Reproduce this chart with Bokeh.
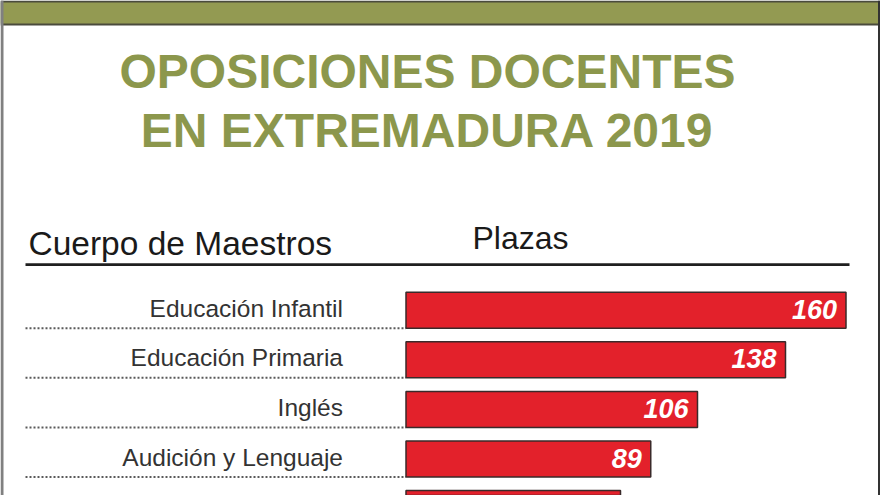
from bokeh.plotting import figure
from bokeh.models import Range1d, Label, BoxAnnotation, ColumnDataSource
from bokeh.core.properties import value
from bokeh.embed import file_html
from bokeh.resources import INLINE

# ---- data ----
categories = ["Educación Infantil", "Educación Primaria", "Inglés",
              "Audición y Lenguaje", "Pedagogía Terapéutica"]
plazas = [160, 138, 106, 89, 78]
title_lines = ["OPOSICIONES DOCENTES", "EN EXTREMADURA 2019"]
header_left = "Cuerpo de Maestros"
header_right = "Plazas"

# ---- layout constants ----
W, H = 880, 495
PX_PER_UNIT = 2.75
BAR_X0 = 405.5          # pixel where value 0 sits
ROW0_Y = 309.7          # pixel center of first bar (from top)
ROW_STEP = 49.6
BAR_H = 0.726
FONT = "Liberation Sans"
OLIVE = "#939a52"
TITLE_COL = "#8c974c"
RED = "#e3212b"


def sy(y_top):
    """screen y (bottom origin) from a y measured from the top"""
    return H - y_top


idx = list(range(len(categories)))
src = ColumnDataSource(dict(
    y=idx,
    cat=categories,
    val=plazas,
    lab=[str(v) for v in plazas],
    zero=[0] * len(plazas),
    dot0=[(25 - BAR_X0) / PX_PER_UNIT] * len(plazas),
    ybot=[i + BAR_H / 2 for i in idx],
))

p = figure(width=W, height=H,
           x_range=Range1d(-BAR_X0 / PX_PER_UNIT, (W - BAR_X0) / PX_PER_UNIT),
           y_range=Range1d((H - ROW0_Y) / ROW_STEP, -ROW0_Y / ROW_STEP),
           output_backend="svg", toolbar_location=None,
           x_axis_type=None, y_axis_type=None, min_border=0)
p.outline_line_color = None
p.background_fill_color = "white"
p.border_fill_color = "white"


def sbox(l, r, t, b, color, level="annotation"):
    return BoxAnnotation(left=l, right=r, top=sy(t), bottom=sy(b),
                         left_units="screen", right_units="screen",
                         top_units="screen", bottom_units="screen",
                         fill_color=color, fill_alpha=1, line_alpha=0, level=level)


# frame decorations
p.add_layout(sbox(0, W, 0, 25, "#4a4b3c", "underlay"))
p.add_layout(sbox(0, W, 2, 23, OLIVE, "underlay"))
p.add_layout(sbox(0, 3, 0, H, "#808080"))
p.add_layout(sbox(877.5, 879.5, 0, H, "#333333"))
p.add_layout(sbox(25, 849, 262.8, 265.5, "#1f1f1f"))   # header rule

# title (y = vertical centre of the capitals)
for txt, cy in zip(title_lines, [71, 129.5]):
    p.add_layout(Label(x=427, y=sy(cy), x_units="screen", y_units="screen",
                       text=txt, text_font=FONT, text_font_style="bold",
                       text_font_size="48px", text_color=TITLE_COL,
                       text_align="center", text_baseline="middle"))

# headers
p.add_layout(Label(x=28, y=sy(243), x_units="screen", y_units="screen",
                   text=header_left, text_font=FONT, text_font_size="33.5px",
                   text_color="#1a1a1a", text_baseline="middle"))
p.add_layout(Label(x=472, y=sy(237.5), x_units="screen", y_units="screen",
                   text=header_right, text_font=FONT, text_font_size="32px",
                   text_color="#1a1a1a", text_baseline="middle"))

# dotted leaders
p.segment(x0="dot0", x1="zero", y0="ybot", y1="ybot", source=src,
          line_color="#5a5a5a", line_width=2, line_dash="2 2")

# bars
p.hbar(y="y", left=0, right="val", height=BAR_H, source=src,
       fill_color=RED, line_color="#3a2a2a", line_width=1.5)

# category labels
p.text(x="zero", y="y", text="cat", source=src, x_offset=-63, y_offset=-2,
       text_align="right", text_baseline="middle",
       text_font=value(FONT), text_font_size="24.5px", text_color="#333333")

# value labels
p.text(x="val", y="y", text="lab", source=src, x_offset=-9, y_offset=-1,
       text_align="right", text_baseline="middle",
       text_font=value(FONT), text_font_style="bold italic",
       text_font_size="27px", text_color="white")

open("out.html", "w").write(file_html(p, INLINE))
